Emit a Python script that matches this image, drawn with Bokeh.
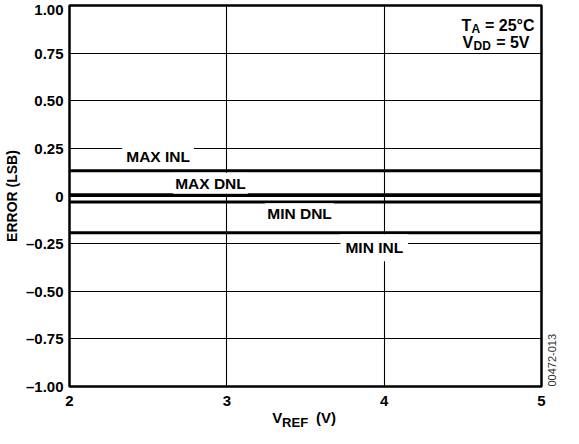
import math
from bokeh.plotting import figure
from bokeh.models import Label, FixedTicker, Range1d, LinearAxis
from bokeh.embed import file_html
from bokeh.resources import INLINE

# ---- data ----
vref = [2.0, 2.5, 3.0, 3.5, 4.0, 4.5, 5.0]
max_inl = [0.133, 0.133, 0.133, 0.133, 0.133, 0.133, 0.133]
max_dnl = [0.006, 0.006, 0.006, 0.006, 0.006, 0.006, 0.006]
min_dnl = [-0.032, -0.032, -0.032, -0.032, -0.032, -0.032, -0.032]
min_inl = [-0.193, -0.193, -0.193, -0.193, -0.193, -0.193, -0.193]

x_ticks = [2, 3, 4, 5]
x_tick_labels = ["2", "3", "4", "5"]
y_ticks = [-1.0, -0.75, -0.5, -0.25, 0.0, 0.25, 0.5, 0.75, 1.0]
y_tick_labels = ["–1.00", "–0.75", "–0.50", "–0.25", "0", "0.25", "0.50", "0.75", "1.00"]

series_names = ["MAX INL", "MAX DNL", "MIN DNL", "MIN INL"]
# label anchor positions (data coordinates of annotation centres)
label_x = [2.563, 2.896, 3.462, 3.937]
label_y = [0.207, 0.067, -0.093, -0.272]
label_pad = [4, 2, 2, 5]

# x-axis title pieces: "V", subscript "REF", "(V)" (centre positions in x data units)
xtitle_main_pos = [3.320, 3.630]
xtitle_main_txt = ["V", "(V)"]
xtitle_sub_pos = [3.434]
xtitle_sub_txt = ["REF"]

# figure code on the right edge
code_pos = [-1.0]
code_txt = ["00472-013"]

FONT = "Liberation Sans"

p = figure(width=563, height=428,
           x_range=Range1d(2, 5), y_range=Range1d(-1, 1),
           output_backend="svg", toolbar_location=None,
           min_border_left=67, min_border_right=22,
           min_border_top=5, min_border_bottom=42)

p.background_fill_color = "white"
p.border_fill_color = "white"
p.outline_line_color = "black"
p.outline_line_width = 2.5
p.outline_line_alpha = 1


def plain(ax, size="15px", style="bold", color="black"):
    ax.axis_line_color = None
    ax.major_tick_line_color = None
    ax.minor_tick_line_color = None
    ax.major_tick_out = 0
    ax.major_tick_in = 0
    ax.minor_tick_out = 0
    ax.minor_tick_in = 0
    ax.major_label_text_font = FONT
    ax.major_label_text_font_style = style
    ax.major_label_text_font_size = size
    ax.major_label_text_color = color


def blank_label(ax, standoff):
    # an empty (no-break space) axis label whose negative standoff gives the
    # unused depth of this axis back to the plot frame
    ax.axis_label = "\u00a0"
    ax.axis_label_text_font = FONT
    ax.axis_label_text_font_size = "15px"
    ax.axis_label_standoff = standoff


for ax in (p.xaxis[0], p.yaxis[0]):
    plain(ax)

p.xaxis.ticker = FixedTicker(ticks=x_ticks)
p.xaxis.major_label_overrides = {t: l for t, l in zip(x_ticks, x_tick_labels)}
p.xaxis.major_label_standoff = 9

p.yaxis.ticker = FixedTicker(ticks=y_ticks)
p.yaxis.major_label_overrides = {t: l for t, l in zip(y_ticks, y_tick_labels)}
p.yaxis.major_label_standoff = 6
p.yaxis.axis_label = "ERROR (LSB)"
p.yaxis.axis_label_text_font = FONT
p.yaxis.axis_label_text_font_style = "bold"
p.yaxis.axis_label_text_font_size = "14px"
p.yaxis.axis_label_text_color = "black"
p.yaxis.axis_label_standoff = 3

# x-axis title: "V" and "(V)" on one tick-less axis ...
ax_main = LinearAxis(ticker=FixedTicker(ticks=xtitle_main_pos),
                     major_label_overrides={t: s for t, s in zip(xtitle_main_pos, xtitle_main_txt)},
                     major_label_standoff=0)
plain(ax_main)
blank_label(ax_main, -38)
p.add_layout(ax_main, "below")

# ... and the subscript "REF" on another one just under it
ax_sub = LinearAxis(ticker=FixedTicker(ticks=xtitle_sub_pos),
                    major_label_overrides={t: s for t, s in zip(xtitle_sub_pos, xtitle_sub_txt)},
                    major_label_standoff=4)
plain(ax_sub, size="13px")
blank_label(ax_sub, -40)
p.add_layout(ax_sub, "below")

# figure code as a rotated tick label on a tick-less right axis
ax_code = LinearAxis(ticker=FixedTicker(ticks=code_pos),
                     major_label_overrides={t: s for t, s in zip(code_pos, code_txt)},
                     major_label_standoff=10,
                     major_label_orientation=math.pi / 2)
plain(ax_code, size="11px", style="normal", color="#333333")
p.add_layout(ax_code, "right")

p.xgrid.ticker = FixedTicker(ticks=x_ticks)
p.ygrid.ticker = FixedTicker(ticks=y_ticks)
p.grid.grid_line_color = "black"
p.grid.grid_line_width = 1.1
p.grid.grid_line_alpha = 1

for ys in (max_inl, max_dnl, min_dnl, min_inl):
    p.line(vref, ys, line_color="black", line_width=3)

for name, lx, ly, pad in zip(series_names, label_x, label_y, label_pad):
    p.add_layout(Label(x=lx, y=ly, text=name, text_align="center",
                       text_baseline="middle", text_font=FONT,
                       text_font_style="bold", text_font_size="15.5px",
                       text_color="black", background_fill_color="white",
                       background_fill_alpha=1, padding=pad))


def txt(t, xo, yo, size="16px", align="left"):
    p.add_layout(Label(x=5, y=1, text=t, x_offset=xo, y_offset=yo,
                       text_align=align, text_baseline="alphabetic",
                       text_font=FONT, text_font_style="bold",
                       text_font_size=size, text_color="black"))


# conditions, anchored at top-right corner of the frame
txt("T", -80, -20)
txt("A", -70, -23, size="12px")
txt("= 25°C", -7, -20, align="right")
txt("V", -79, -37)
txt("DD", -68, -40, size="12px")
txt("= 5V", -12, -37, align="right")

open("out.html", "w").write(file_html(p, INLINE))
